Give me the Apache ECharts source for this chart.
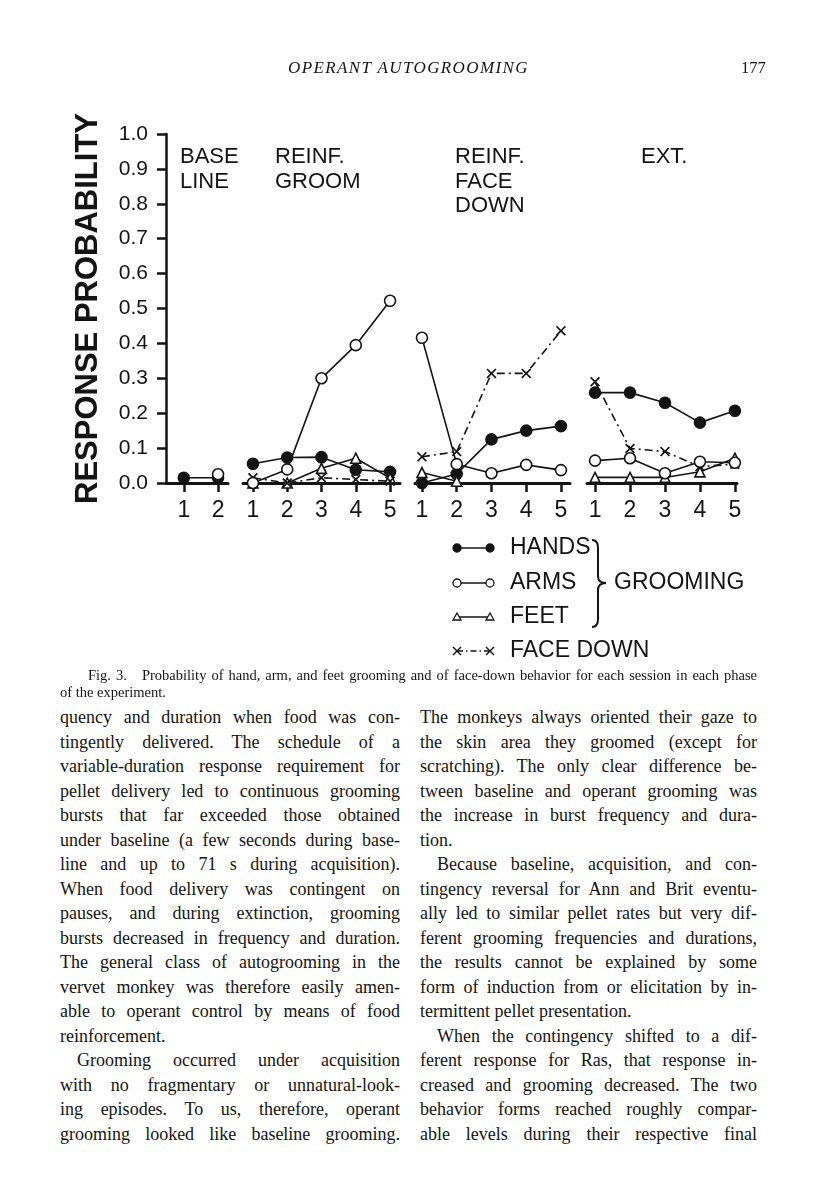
<!DOCTYPE html>
<html><head><meta charset="utf-8">
<script src="https://cdn.jsdelivr.net/npm/echarts@6/dist/echarts.min.js"></script>
<style>
body{margin:0;background:#fff;width:816px;height:1200px;position:relative;overflow:hidden;}
#chart{position:absolute;left:0;top:0;width:816px;height:680px;}
.serif{position:absolute;font-family:"Liberation Serif","Times New Roman",serif;color:#141414;}
.col{top:705px;width:340px;font-size:18px;line-height:24.5px;}
.col div{text-align:justify;text-align-last:justify;white-space:nowrap;}
.col div.e{text-align-last:left;}
.col div.i{padding-left:17px;}
.cap div{text-align:justify;text-align-last:justify;white-space:nowrap;}
</style></head>
<body>
<div id="chart"></div>
<div class="serif" style="left:288px;top:58px;font-size:17px;font-style:italic;letter-spacing:1.4px;">OPERANT AUTOGROOMING</div>
<div class="serif" style="left:741px;top:58px;font-size:16.5px;">177</div>
<div class="serif cap" style="left:60px;top:667px;width:697px;font-size:14.5px;line-height:17px;">
<div style="padding-left:28px;">Fig. 3.&nbsp;&nbsp; Probability of hand, arm, and feet grooming and of face-down behavior for each session in each phase</div>
<div style="text-align-last:left;">of the experiment.</div>
</div>
<div class="serif col" style="left:60px;">
<div>quency and duration when food was con-</div>
<div>tingently delivered. The schedule of a</div>
<div>variable-duration response requirement for</div>
<div>pellet delivery led to continuous grooming</div>
<div>bursts that far exceeded those obtained</div>
<div>under baseline (a few seconds during base-</div>
<div>line and up to 71 s during acquisition).</div>
<div>When food delivery was contingent on</div>
<div>pauses, and during extinction, grooming</div>
<div>bursts decreased in frequency and duration.</div>
<div>The general class of autogrooming in the</div>
<div>vervet monkey was therefore easily amen-</div>
<div>able to operant control by means of food</div>
<div class="e">reinforcement.</div>
<div class="i">Grooming occurred under acquisition</div>
<div>with no fragmentary or unnatural-look-</div>
<div>ing episodes. To us, therefore, operant</div>
<div>grooming looked like baseline grooming.</div>
</div>
<div class="serif col" style="left:420px;width:337px;">
<div>The monkeys always oriented their gaze to</div>
<div>the skin area they groomed (except for</div>
<div>scratching). The only clear difference be-</div>
<div>tween baseline and operant grooming was</div>
<div>the increase in burst frequency and dura-</div>
<div class="e">tion.</div>
<div class="i">Because baseline, acquisition, and con-</div>
<div>tingency reversal for Ann and Brit eventu-</div>
<div>ally led to similar pellet rates but very dif-</div>
<div>ferent grooming frequencies and durations,</div>
<div>the results cannot be explained by some</div>
<div>form of induction from or elicitation by in-</div>
<div class="e">termittent pellet presentation.</div>
<div class="i">When the contingency shifted to a dif-</div>
<div>ferent response for Ras, that response in-</div>
<div>creased and grooming decreased. The two</div>
<div>behavior forms reached roughly compar-</div>
<div>able levels during their respective final</div>
</div>
<script>
// ---- data ----
const phases = ['BASE\nLINE', 'REINF.\nGROOM', 'REINF.\nFACE\nDOWN', 'EXT.'];
const sessions = [[1, 2], [1, 2, 3, 4, 5], [1, 2, 3, 4, 5], [1, 2, 3, 4, 5]];
const hands    = [[0.015, 0.015], [0.055, 0.073, 0.074, 0.038, 0.032], [0.0, 0.026, 0.125, 0.15, 0.163], [0.259, 0.259, 0.23, 0.173, 0.207]];
const arms     = [[null, 0.025], [0.0, 0.039, 0.30, 0.395, 0.522], [0.416, 0.054, 0.028, 0.052, 0.037], [0.064, 0.071, 0.028, 0.061, 0.058]];
const feet     = [[null, null], [0.0, 0.0, 0.042, 0.071, 0.014], [0.03, 0.005, null, null, null], [0.016, 0.016, 0.016, 0.032, 0.071]];
const faceDown = [[null, null], [0.015, 0.0, 0.015, 0.01, 0.005], [0.075, 0.09, 0.314, 0.314, 0.436], [0.29, 0.099, 0.09, 0.047, 0.054]];
const yTickLabels = ['0.0', '0.1', '0.2', '0.3', '0.4', '0.5', '0.6', '0.7', '0.8', '0.9', '1.0'];
const legendNames = ['HANDS', 'ARMS', 'FEET', 'FACE DOWN'];

// ---- layout ----
const INK = '#141414';
const FONT = '"Liberation Sans", Arial, sans-serif';
const X_PATH = 'path://M0,1.2L1.2,0L5,3.8L8.8,0L10,1.2L6.2,5L10,8.8L8.8,10L5,6.2L1.2,10L0,8.8L3.8,5Z';
const gridBox = [
  {left: 166, width: 62, xmin: 0.48, xmax: 2.29},
  {left: 243, width: 157, xmin: 0.71, xmax: 5.29},
  {left: 415, width: 155, xmin: 0.80, xmax: 5.26},
  {left: 587, width: 150, xmin: 0.77, xmax: 5.06}
];
const TOP = 134, H = 349;

const styles = [
  {data: hands, symbol: 'circle', size: 11, fill: INK, dash: 'solid'},
  {data: arms, symbol: 'circle', size: 11, fill: '#fff', dash: 'solid'},
  {data: feet, symbol: 'triangle', size: 10, fill: '#fff', dash: 'solid'},
  {data: faceDown, symbol: X_PATH, size: 10, fill: INK, dash: [8, 4, 2, 4]}
];

const series = [];
styles.forEach((st, k) => {
  phases.forEach((p, pi) => {
    series.push({
      type: 'line', name: legendNames[k], xAxisIndex: pi, yAxisIndex: pi,
      data: sessions[pi].map((s, i) => [s, st.data[pi][i]]),
      symbol: st.symbol, symbolSize: st.size, showSymbol: true,
      itemStyle: {color: st.fill, borderColor: INK, borderWidth: k === 3 ? 0 : 1.6},
      lineStyle: {color: INK, width: 1.6, type: st.dash},
      z: 3 + (k === 1 ? 1 : 0), animation: false, silent: true
    });
  });
});

const option = {
  backgroundColor: 'transparent',
  animation: false,
  grid: gridBox.map(g => ({left: g.left, width: g.width, top: TOP, height: H})),
  xAxis: gridBox.map((g, i) => ({
    gridIndex: i, type: 'value', min: g.xmin, max: g.xmax,
    axisLine: {show: true, onZero: false, lineStyle: {color: INK, width: 3}},
    axisTick: {show: true, customValues: sessions[i], length: 9, lineStyle: {color: INK, width: 2.5}},
    axisLabel: {customValues: sessions[i], margin: 16, fontSize: 23, color: INK, fontFamily: FONT, formatter: v => String(v)},
    splitLine: {show: false}
  })),
  yAxis: gridBox.map((g, i) => i === 0 ? {
    gridIndex: 0, type: 'value', min: 0, max: 1, interval: 0.1,
    axisLine: {show: true, lineStyle: {color: INK, width: 2.5}},
    axisTick: {show: true, length: 9, lineStyle: {color: INK, width: 2.5}},
    axisLabel: {margin: 18, fontSize: 21, color: INK, fontFamily: FONT, formatter: v => yTickLabels[Math.round(v * 10)]},
    splitLine: {show: false},
    name: 'RESPONSE PROBABILITY', nameLocation: 'middle', nameGap: 62, nameRotate: 90,
    nameTextStyle: {fontSize: 31, color: INK, fontFamily: FONT, fontWeight: 'bold'}
  } : {gridIndex: i, type: 'value', min: 0, max: 1, show: false}),
  series: series,
  graphic: []
};

// phase labels
const phaseLeft = [180, 275, 455, 641];
phases.forEach((p, i) => {
  option.graphic.push({type: 'text', x: phaseLeft[i], y: 145,
    style: {text: p, font: '22px ' + FONT, fill: INK, lineHeight: 24.5}});
});

// legend (drawn)
const legY = [548, 583, 617, 651];
legendNames.forEach((n, k) => {
  const y = legY[k];
  const children = [];
  children.push({type: 'line', shape: {x1: 457, y1: y, x2: 490, y2: y},
    style: {stroke: INK, lineWidth: 1.5, lineDash: k === 3 ? [6, 3, 1.5, 3] : null}});
  [457, 490].forEach(x => {
    if (k === 0 || k === 1) children.push({type: 'circle', shape: {cx: x, cy: y, r: 4},
      style: {fill: k === 0 ? INK : '#fff', stroke: INK, lineWidth: 1.3}});
    if (k === 2) children.push({type: 'polygon', shape: {points: [[x - 4, y + 3], [x + 4, y + 3], [x, y - 4]]},
      style: {fill: '#fff', stroke: INK, lineWidth: 1.3}});
    if (k === 3) {
      children.push({type: 'line', shape: {x1: x - 4, y1: y - 4, x2: x + 4, y2: y + 4}, style: {stroke: INK, lineWidth: 1.5}});
      children.push({type: 'line', shape: {x1: x - 4, y1: y + 4, x2: x + 4, y2: y - 4}, style: {stroke: INK, lineWidth: 1.5}});
    }
  });
  children.push({type: 'text', x: 510, y: y, style: {text: n, font: '23px ' + FONT, fill: INK, textVerticalAlign: 'middle'}});
  option.graphic.push({type: 'group', children: children});
});
// brace
const braceStyle = {stroke: INK, lineWidth: 2, fill: null};
[
  {type: 'bezierCurve', shape: {x1: 592, y1: 540, cpx1: 598, cpy1: 540, x2: 598, y2: 548}},
  {type: 'line', shape: {x1: 598, y1: 548, x2: 598, y2: 576}},
  {type: 'bezierCurve', shape: {x1: 598, y1: 576, cpx1: 598, cpy1: 583, x2: 606, y2: 583}},
  {type: 'bezierCurve', shape: {x1: 606, y1: 583, cpx1: 598, cpy1: 583, x2: 598, y2: 590}},
  {type: 'line', shape: {x1: 598, y1: 590, x2: 598, y2: 619}},
  {type: 'bezierCurve', shape: {x1: 598, y1: 619, cpx1: 598, cpy1: 627, x2: 592, y2: 627}}
].forEach(el => { el.style = braceStyle; option.graphic.push(el); });
option.graphic.push({type: 'text', x: 614, y: 583, style: {text: 'GROOMING', font: '23px ' + FONT, fill: INK, textVerticalAlign: 'middle'}});

const chart = echarts.init(document.getElementById('chart'), null, {renderer: 'canvas'});
chart.setOption(option);
</script>
</body></html>
